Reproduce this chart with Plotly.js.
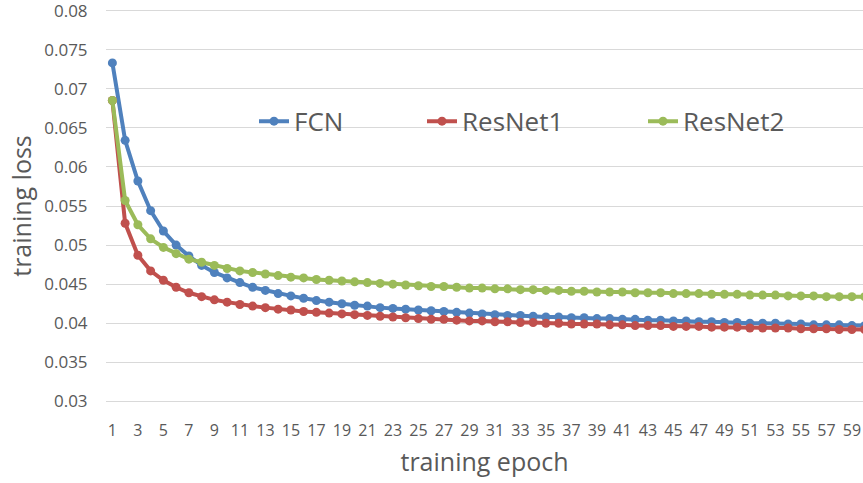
<!DOCTYPE html>
<html>
<head>
<meta charset="utf-8">
<script src="https://cdn.plot.ly/plotly-3.0.1.min.js"></script>
<style>html,body{margin:0;padding:0;background:#fff;}#chart{width:863px;height:483px;}</style>
</head>
<body>
<div id="chart"></div>
<script>
const epochs = Array.from({length: 60}, (_, i) => i + 1);
const xTickVals = [1,3,5,7,9,11,13,15,17,19,21,23,25,27,29,31,33,35,37,39,41,43,45,47,49,51,53,55,57,59];
const yTickVals = [0.03,0.035,0.04,0.045,0.05,0.055,0.06,0.065,0.07,0.075,0.08];
const yTickText = ['0.03','0.035','0.04','0.045','0.05','0.055','0.06','0.065','0.07','0.075','0.08'];

const fcn = [0.0733,0.0634,0.0582,0.0544,0.0518,0.0500,0.0486,0.0474,0.0465,0.0458,
  0.0452,0.0446,0.0442,0.0438,0.0435,0.0432,0.0429,0.0427,0.0425,0.0423,
  0.0422,0.0420,0.0419,0.0418,0.0417,0.0416,0.0415,0.0414,0.0413,0.0412,
  0.0411,0.0410,0.0410,0.0409,0.0408,0.0408,0.0407,0.0407,0.0406,0.0406,
  0.0405,0.0405,0.0404,0.0404,0.0403,0.0403,0.0402,0.0402,0.0401,0.0401,
  0.0400,0.0400,0.0400,0.0399,0.0399,0.0398,0.0398,0.0398,0.0397,0.0397];
const resnet1 = [0.0685,0.0528,0.0487,0.0467,0.0455,0.0446,0.0439,0.0434,0.0430,0.0427,
  0.0424,0.0422,0.0420,0.0418,0.0417,0.0415,0.0414,0.0413,0.0412,0.0411,
  0.0410,0.0409,0.0408,0.0407,0.0406,0.0405,0.0405,0.0404,0.0403,0.0403,
  0.0402,0.0402,0.0401,0.0401,0.0400,0.0400,0.0399,0.0399,0.0399,0.0398,
  0.0398,0.0397,0.0397,0.0397,0.0396,0.0396,0.0396,0.0395,0.0395,0.0395,
  0.0394,0.0394,0.0394,0.0394,0.0393,0.0393,0.0393,0.0392,0.0392,0.0392];
const resnet2 = [0.0685,0.0557,0.0526,0.0508,0.0497,0.0489,0.0482,0.0478,0.0474,0.0470,
  0.0467,0.0465,0.0463,0.0461,0.0459,0.0458,0.0456,0.0455,0.0454,0.0453,
  0.0452,0.0451,0.0450,0.0449,0.0448,0.0447,0.0447,0.0446,0.0445,0.0445,
  0.0444,0.0444,0.0443,0.0443,0.0442,0.0442,0.0441,0.0441,0.0440,0.0440,
  0.0440,0.0439,0.0439,0.0439,0.0438,0.0438,0.0438,0.0437,0.0437,0.0437,
  0.0436,0.0436,0.0436,0.0435,0.0435,0.0435,0.0434,0.0434,0.0434,0.0434];

const seriesNames = ['FCN','ResNet1','ResNet2'];
const seriesColors = ['#4F81BD','#C0504D','#9BBB59'];
const seriesData = [fcn, resnet1, resnet2];
const legendIds = ['legend','legend2','legend3'];

const traces = seriesData.map((ys, i) => ({
  x: epochs, y: ys, name: seriesNames[i], type: 'scatter', mode: 'lines+markers',
  line: {color: seriesColors[i], width: 4},
  marker: {color: seriesColors[i], size: 9},
  legend: legendIds[i], cliponaxis: true
}));

const FONT = '"Open Sans", "Noto Sans", sans-serif';
const legendBase = {orientation: 'h', yanchor: 'middle', y: 0.715, xanchor: 'left',
  bgcolor: 'rgba(0,0,0,0)', font: {family: FONT, size: 26, color: '#595959'}};

const layout = {
  width: 863, height: 483,
  margin: {l: 106, r: 0, t: 9, b: 80, autoexpand: false},
  paper_bgcolor: '#ffffff', plot_bgcolor: '#ffffff',
  font: {family: FONT, color: '#595959'},
  xaxis: {
    range: [0.5, 59.87], tickmode: 'array', tickvals: xTickVals, ticktext: xTickVals.map(String),
    tickangle: 0, showgrid: false, zeroline: false, showline: false,
    ticks: 'outside', ticklen: 13, tickcolor: 'rgba(0,0,0,0)',
    tickfont: {family: FONT, size: 16, color: '#595959'},
    title: {text: 'training epoch', font: {family: FONT, size: 25, color: '#595959'}, standoff: 13},
    automargin: false, ticklabeloverflow: 'allow'
  },
  yaxis: {
    range: [0.0298, 0.0802], tickmode: 'array', tickvals: yTickVals, ticktext: yTickText,
    showgrid: true, gridcolor: '#D9D9D9', gridwidth: 1, zeroline: false, showline: false,
    ticks: 'outside', ticklen: 14, tickcolor: 'rgba(0,0,0,0)',
    tickfont: {family: FONT, size: 17, color: '#595959'},
    title: {text: 'training loss', font: {family: FONT, size: 25, color: '#595959'}, standoff: 5},
    automargin: false, ticklabeloverflow: 'allow'
  },
  legend: Object.assign({}, legendBase, {x: (254 - 106) / 757}),
  legend2: Object.assign({}, legendBase, {x: (422 - 106) / 757}),
  legend3: Object.assign({}, legendBase, {x: (643 - 106) / 757}),
  showlegend: true
};

Plotly.newPlot('chart', traces, layout, {displayModeBar: false, staticPlot: true});
</script>
</body>
</html>
